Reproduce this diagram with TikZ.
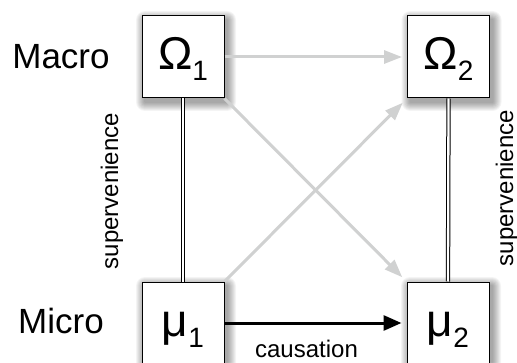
\documentclass[tikz,border=0pt]{standalone}
\usepackage{fontspec}
\setmainfont{Liberation Sans}
\usetikzlibrary{arrows.meta,backgrounds}
\definecolor{lightarrow}{RGB}{208,209,209}
\tikzset{
 box/.style={draw=black, line width=1pt, fill=white, minimum width=82pt, minimum height=82pt,
   inner sep=0pt, text height=35pt, text depth=9pt, font=\fontsize{46}{46}\selectfont},
 grayarrow/.style={draw=lightarrow, line width=3pt, -{Triangle[length=18pt,width=13pt]}, shorten >=5pt},
 causearrow/.style={draw=black, line width=3pt, -{Triangle[length=18pt,width=15pt]}, shorten >=5pt},
 superline/.style={draw=black, double=white, line width=1pt, double distance=2.3pt},
 levellabel/.style={font=\fontsize{35}{35}\selectfont, inner sep=0pt},
 smalllabel/.style={font=\fontsize{24}{24}\selectfont, inner sep=0pt},
}
\newcommand{\subidx}[1]{\raisebox{-11pt}{\fontsize{28}{28}\selectfont #1}}
\begin{document}
\begin{tikzpicture}[x=1pt,y=1pt]
\useasboundingbox (0,0) rectangle (517,362);
\fill[white] (0,0) rectangle (517,362);

\foreach \p in {(183,305),(448.5,305),(183,39),(448,39)}{
  \foreach \i in {1,...,9}{
    \fill[black, opacity=0.045, rounded corners=\i pt, shift={\p}]
      ({-41+3-\i},{-41-4-\i}) rectangle ({41+3+\i},{41-4+\i});
  }
}

\node[box] (o1) at (183,305) {Ω\subidx{1}\hspace{6pt}};
\node[box] (o2) at (448.5,305) {Ω\subidx{2}\hspace{6pt}};
\node[box] (m1) at (183,39) {μ\subidx{1}};
\node[box] (m2) at (448,39) {μ\subidx{2}};

\node[levellabel] (macro) at (61,305.5) {Macro};
\node[levellabel] (micro) at (61,41.5) {Micro};
\node[smalllabel, rotate=90] (supL) at (112,171) {supervenience};
\node[smalllabel, rotate=90] (supR) at (507,174) {supervenience};
\node[smalllabel, anchor=base] (caus) at (306.5,5) {causation};

\draw[superline] (o1.south) -- (m1.north);
\draw[superline] (o2.south) -- (m2.north);

\draw[grayarrow] (o1.east) -- (o2.west);
\draw[grayarrow, shorten >=6pt] (o1.south east) -- (m2.north west);
\draw[grayarrow, shorten >=6pt] (m1.north east) -- (o2.south west);
\draw[causearrow] (m1.east) -- (m2.west);
\end{tikzpicture}
\end{document}
